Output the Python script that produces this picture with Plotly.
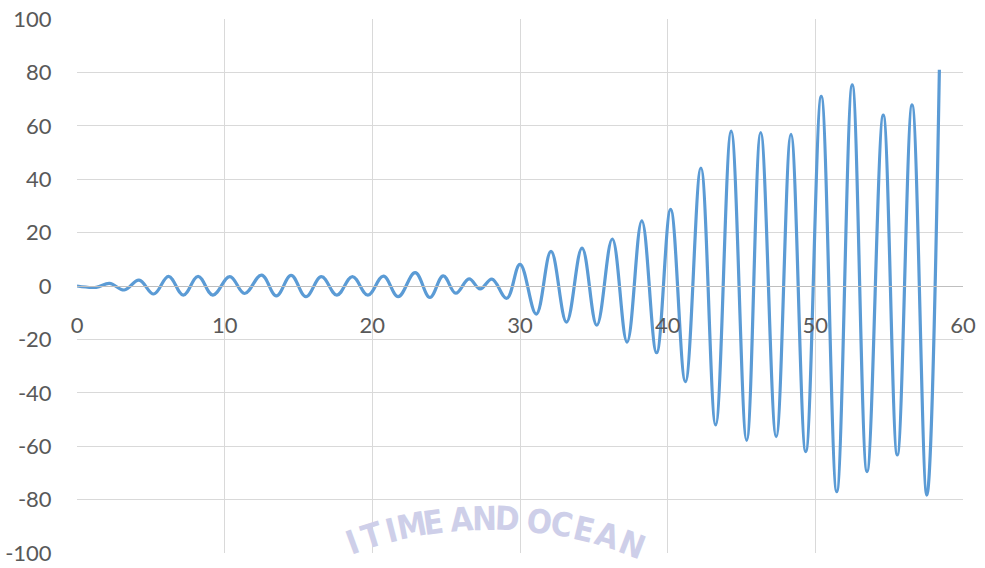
import math
import plotly.graph_objects as go

# Turning points of the response (time, amplitude)
time_s = [0, 1.3, 2.2, 3.2, 4.2, 5.2, 6.2, 7.2, 8.2, 9.2,
          10.35, 11.35, 12.5, 13.5, 14.5, 15.5, 16.55, 17.6, 18.65, 19.7,
          20.75, 21.75, 22.9, 23.9, 24.8, 25.65, 26.55, 27.3, 28.1, 29.1,
          30.0, 31.1, 32.1, 33.15, 34.2, 35.2, 36.25, 37.25, 38.25, 39.25,
          40.2, 41.2, 42.25, 43.25, 44.3, 45.35, 46.3, 47.35, 48.35, 49.35,
          50.4, 51.45, 52.5, 53.5, 54.6, 55.55, 56.55, 57.55, 58.4]
amplitude = [0, -0.5, 1.0, -1.5, 2.2, -3.0, 3.6, -3.4, 3.6, -3.4,
             3.5, -2.8, 4.1, -3.7, 4.0, -4.0, 3.5, -3.4, 3.5, -3.4,
             3.7, -4.0, 5.0, -4.3, 3.8, -2.7, 2.7, -1.1, 2.6, -4.6,
             8.1, -10.5, 13.0, -13.5, 14.2, -14.7, 17.6, -21.0, 24.4, -25.0,
             28.7, -35.8, 44.2, -52.0, 58.0, -57.8, 57.5, -56.4, 56.8, -62.0,
             71.0, -77.0, 75.3, -69.5, 64.0, -63.3, 67.8, -78.3, 81.0]

x_ticks = [0, 10, 20, 30, 40, 50, 60]
x_tick_text = ["0", "10", "20", "30", "40", "50", "60"]
y_ticks = [100, 80, 60, 40, 20, 0, -20, -40, -60, -80, -100]
y_tick_text = ["100", "80", "60", "40", "20", "0", "-20", "-40", "-60", "-80", "-100"]

# Watermark lettering
seal_letters = list("ITIMEANDOCEAN")

W, H = 985, 568
L, R, T, B = 77, 22, 19, 15
plot_w, plot_h = W - L - R, H - T - B

fig = go.Figure()
fig.add_trace(go.Scatter(
    x=time_s, y=amplitude, mode="lines",
    line=dict(color="#5b9bd5", width=3.2, shape="spline", smoothing=1.1),
    hoverinfo="skip", showlegend=False,
))

# Letters follow a shallow arc near the bottom of the figure (pixel layout)
letter_px = [352, 372, 391, 412, 433, 461, 484, 507, 539, 562, 584, 607, 632]
arc_cx, arc_cy, arc_r = 490, 918, 400
annotations = []
for ch, px in zip(seal_letters, letter_px):
    th = math.asin((px - arc_cx) / arc_r)
    py = arc_cy - arc_r * math.cos(th)
    annotations.append(dict(
        x=(px - L) / plot_w, y=(H - B - py) / plot_h, xref="paper", yref="paper",
        text=ch, showarrow=False, textangle=math.degrees(th),
        xanchor="center", yanchor="middle",
        font=dict(family="Liberation Sans Narrow, DejaVu Sans Condensed", size=33,
                  color="rgb(206,207,233)", weight="bold"),
    ))

fig.update_layout(
    width=W, height=H,
    margin=dict(l=L, r=R, t=T, b=B),
    paper_bgcolor="white", plot_bgcolor="white",
    font=dict(family="Lato, Liberation Sans, sans-serif", size=22, color="#595959"),
    annotations=annotations,
    xaxis=dict(
        range=[0, 60], tickvals=x_ticks, ticktext=x_tick_text,
        showgrid=True, gridcolor="#d9d9d9", gridwidth=1, zeroline=False,
        showline=True, linecolor="#bfbfbf", linewidth=1,
        anchor="free", position=0.5, automargin=False,
        ticks="outside", ticklen=20, tickcolor="rgba(0,0,0,0)",
    ),
    yaxis=dict(
        range=[-100, 100], tickvals=y_ticks, ticktext=y_tick_text,
        showgrid=True, gridcolor="#d9d9d9", gridwidth=1, zeroline=False,
        showline=False, automargin=False,
        ticks="outside", ticklen=20, tickcolor="rgba(0,0,0,0)",
    ),
)

fig.write_html("out.html")
